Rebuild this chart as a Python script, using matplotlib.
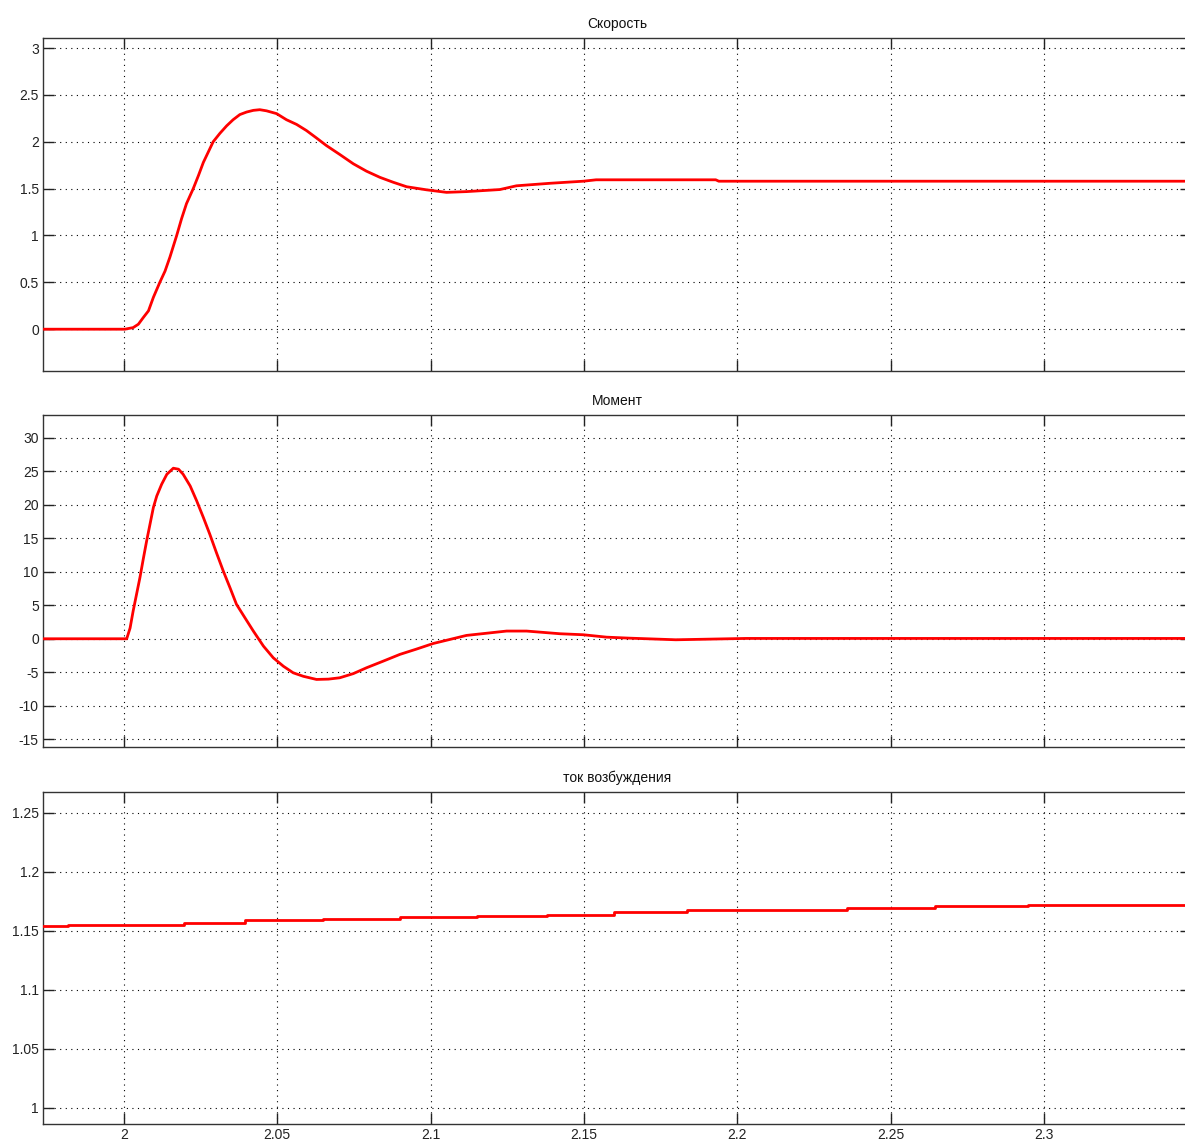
import matplotlib
matplotlib.use("Agg")
import matplotlib.pyplot as plt

# ---- data ----
titles = ["Скорость", "Момент", "ток возбуждения"]

speed_t = [1.9736, 2.0003, 2.003, 2.0047, 2.0063, 2.008, 2.0096, 2.0117, 2.0134, 2.015,
           2.0172, 2.0188, 2.0204, 2.0226, 2.0243, 2.0259, 2.0275, 2.0291, 2.0313, 2.0335,
           2.0356, 2.0378, 2.04, 2.0422, 2.0443, 2.0465, 2.0498, 2.053, 2.0563, 2.0595,
           2.0628, 2.066, 2.0704, 2.0748, 2.0791, 2.0835, 2.0878, 2.0922, 2.0987, 2.1052,
           2.1117, 2.1226, 2.128, 2.139, 2.1498, 2.154, 2.193, 2.194, 2.348]
speed_v = [0.0, 0.0, 0.017, 0.053, 0.124, 0.196, 0.34, 0.50, 0.62, 0.77,
           1.0, 1.18, 1.34, 1.50, 1.64, 1.78, 1.89, 2.0, 2.09, 2.17,
           2.235, 2.29, 2.317, 2.335, 2.342, 2.33, 2.30, 2.235, 2.185, 2.12,
           2.04, 1.96, 1.864, 1.765, 1.686, 1.62, 1.568, 1.52, 1.487, 1.46,
           1.468, 1.49, 1.53, 1.557, 1.579, 1.594, 1.594, 1.579, 1.579]

torque_t = [1.9736, 2.0009, 2.002, 2.003, 2.0052, 2.0063, 2.0074, 2.0085, 2.0096, 2.0107,
            2.0123, 2.014, 2.0161, 2.0178, 2.0193, 2.0216, 2.0237, 2.0259, 2.028, 2.0302,
            2.0324, 2.0346, 2.0367, 2.0395, 2.0422, 2.0455, 2.0487, 2.052, 2.0552, 2.0585,
            2.0628, 2.0667, 2.0704, 2.0748, 2.0791, 2.0846, 2.09, 2.0954, 2.1009, 2.1063,
            2.1117, 2.1248, 2.1313, 2.1422, 2.1498, 2.1574, 2.165, 2.180, 2.203, 2.348]
torque_v = [0.0, 0.0, 1.6, 4.14, 9.1, 11.9, 14.6, 17.1, 19.6, 21.3,
            23.06, 24.55, 25.45, 25.3, 24.55, 22.8, 20.6, 18.1, 15.6, 12.8,
            10.1, 7.6, 5.14, 3.1, 1.15, -1.1, -2.84, -4.1, -5.08, -5.6,
            -6.07, -6.02, -5.82, -5.2, -4.33, -3.33, -2.33, -1.54, -0.7, -0.1,
            0.5, 1.15, 1.15, 0.75, 0.6, 0.24, 0.09, -0.15, 0.05, 0.05]

current_t = [1.9736, 1.9818, 2.0197, 2.0395, 2.065, 2.09, 2.115, 2.138, 2.1598, 2.1837,
             2.209, 2.2359, 2.2644, 2.295, 2.348]
current_v = [1.1542, 1.1552, 1.1563, 1.1588, 1.1600, 1.1613, 1.1625, 1.1636, 1.1659, 1.1673,
             1.1680, 1.1694, 1.1708, 1.1719, 1.1719]

xticks = [2.0, 2.05, 2.1, 2.15, 2.2, 2.25, 2.3]
xtick_labels = ["2", "2.05", "2.1", "2.15", "2.2", "2.25", "2.3"]

yticks = [[0, 0.5, 1, 1.5, 2, 2.5, 3],
          [-15, -10, -5, 0, 5, 10, 15, 20, 25, 30],
          [1, 1.05, 1.1, 1.15, 1.2, 1.25]]
ytick_labels = [["0", "0.5", "1", "1.5", "2", "2.5", "3"],
                ["-15", "-10", "-5", "0", "5", "10", "15", "20", "25", "30"],
                ["1", "1.05", "1.1", "1.15", "1.2", "1.25"]]
ylims = [(-0.446, 3.107), (-16.15, 33.39), (0.986, 1.2678)]
xlim = (1.9736, 2.348)

# ---- figure ----
plt.rcParams['font.family'] = ['Liberation Sans', 'DejaVu Sans']
W, H = 1185, 1147
fig = plt.figure(figsize=(W / 100, H / 100), dpi=100)

boxes = [(38, 371), (415, 747), (792, 1124)]
left_px, right_px = 43, 1191

series = [(speed_t, speed_v, None), (torque_t, torque_v, None), (current_t, current_v, 'steps-post')]

for i, ((top, bot), (tt, vv, ds)) in enumerate(zip(boxes, series)):
    ax = fig.add_axes([left_px / W, 1 - bot / H, (right_px - left_px) / W, (bot - top) / H])
    if ds:
        ax.plot(tt, vv, color='#ff0000', lw=2.0, drawstyle=ds, zorder=3)
    else:
        ax.plot(tt, vv, color='#ff0000', lw=2.0, zorder=3, solid_joinstyle='round')
    ax.set_xlim(*xlim)
    ax.set_ylim(*ylims[i])
    ax.set_xticks(xticks)
    if i == 2:
        ax.set_xticklabels(xtick_labels)
    else:
        ax.set_xticklabels([])
    ax.set_yticks(yticks[i])
    ax.set_yticklabels(ytick_labels[i])
    ax.grid(True, color='black', linestyle=(0, (1, 4)), linewidth=0.8)
    ax.tick_params(direction='in', length=8, width=1, top=True, right=True,
                   labelsize=10, colors='#222222', pad=3)
    for sp in ax.spines.values():
        sp.set_color('#333333')
        sp.set_linewidth(1.0)
    ax.set_title(titles[i], fontsize=10, pad=7, color='#111111')

fig.savefig("out.png", dpi=100, facecolor='white')
